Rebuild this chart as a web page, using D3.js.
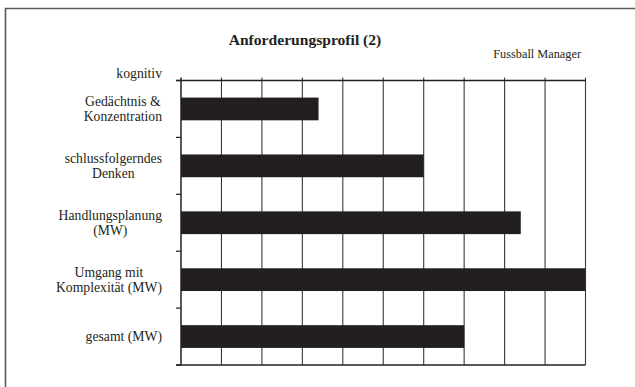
<!DOCTYPE html>
<html>
<head>
<meta charset="utf-8">
<script src="https://cdn.jsdelivr.net/npm/d3@7"></script>
<style>
  body { margin: 0; background: #fff; }
</style>
</head>
<body>
<div id="chart"></div>
<script>
// categories (each entry = label lines), values on a 0..10 scale
var categories = [
  ["Gedächtnis &", "Konzentration"],
  ["schlussfolgerndes", "Denken"],
  ["Handlungsplanung", "(MW)"],
  ["Umgang mit", "Komplexität (MW)"],
  ["gesamt (MW)"]
];
var values = [3.4, 6.0, 8.4, 10, 7.0];
var xTicks = [0, 1, 2, 3, 4, 5, 6, 7, 8, 9, 10];
var title = "Anforderungsprofil (2)";
var subtitle = "Fussball Manager";
var groupLabel = "kognitiv";

var width = 635, height = 387;
var margin = {top: 80.5, left: 181, right: 49.5, bottom: 22};
var serif = "'Liberation Serif', 'Times New Roman', Tinos, 'DejaVu Serif', serif";

var svg = d3.select("#chart").append("svg")
  .attr("width", width)
  .attr("height", height)
  .attr("font-family", serif);

// outer frame (runs off the right and bottom)
svg.append("path")
  .attr("d", "M5.5,400V8.5H640")
  .attr("fill", "none")
  .attr("stroke", "#5a5a5a")
  .attr("stroke-width", 1.6);

var x = d3.scaleLinear()
  .domain([0, 10])
  .range([margin.left, width - margin.right]);

var keys = categories.map(function(d, i) { return i; });
var y = d3.scaleBand()
  .domain(keys)
  .range([margin.top, height - margin.bottom])
  .paddingInner(0.6)
  .paddingOuter(0.3);

var step = y.step();
var y0 = margin.top, y1 = height - margin.bottom;

// vertical grid lines
svg.append("g").selectAll("line")
  .data(xTicks.slice(1))
  .enter().append("line")
  .attr("x1", function(d) { return x(d); })
  .attr("x2", function(d) { return x(d); })
  .attr("y1", y0 - 3)
  .attr("y2", y1)
  .attr("stroke", "#3a3a3a")
  .attr("stroke-width", 1.1);

// bars
svg.append("g").selectAll("rect")
  .data(values)
  .enter().append("rect")
  .attr("x", x(0))
  .attr("y", function(d, i) { return y(i); })
  .attr("width", function(d) { return x(d) - x(0); })
  .attr("height", y.bandwidth())
  .attr("fill", "#231f20");

// top and bottom lines
[y0, y1].forEach(function(yy) {
  svg.append("line")
    .attr("x1", x(0) - 5).attr("x2", x(10))
    .attr("y1", yy).attr("y2", yy)
    .attr("stroke", "#231f20")
    .attr("stroke-width", 1.5);
});

// left axis with ticks at the category boundaries
svg.append("line")
  .attr("x1", x(0)).attr("x2", x(0))
  .attr("y1", y0 - 3).attr("y2", y1)
  .attr("stroke", "#231f20")
  .attr("stroke-width", 1.5);

var bounds = d3.range(categories.length + 1).map(function(i) { return y0 + i * step; });
svg.append("g").selectAll("line")
  .data(bounds)
  .enter().append("line")
  .attr("x1", x(0) - 5).attr("x2", x(0))
  .attr("y1", function(d) { return d; })
  .attr("y2", function(d) { return d; })
  .attr("stroke", "#231f20")
  .attr("stroke-width", 1.2);

// category labels: block right-aligned, lines centred in the block
var labelRight = 162, lineH = 15.5;
var labels = svg.append("g").selectAll("text")
  .data(categories)
  .enter().append("text")
  .attr("font-size", 13.7)
  .attr("fill", "#231f20")
  .attr("text-anchor", "middle");

labels.each(function(lines, i) {
  var t = d3.select(this);
  var cy = y(i) + y.bandwidth() / 2;
  var top = cy - (lines.length - 1) * lineH / 2;
  lines.forEach(function(l, j) {
    t.append("tspan")
      .attr("y", top + j * lineH)
      .attr("dy", "0.35em")
      .text(l);
  });
  var w = 0;
  t.selectAll("tspan").each(function() { w = Math.max(w, this.getComputedTextLength()); });
  t.selectAll("tspan").attr("x", labelRight - w / 2);
});

svg.append("text")
  .attr("x", 162).attr("y", 73)
  .attr("dy", "0.35em")
  .attr("text-anchor", "end")
  .attr("font-size", 13.7)
  .attr("fill", "#231f20")
  .text(groupLabel);

svg.append("text")
  .attr("x", 305).attr("y", 40)
  .attr("dy", "0.35em")
  .attr("text-anchor", "middle")
  .attr("font-size", 15.6)
  .attr("font-weight", "bold")
  .attr("fill", "#231f20")
  .text(title);

svg.append("text")
  .attr("x", 581).attr("y", 54)
  .attr("dy", "0.35em")
  .attr("text-anchor", "end")
  .attr("font-size", 12.3)
  .attr("fill", "#231f20")
  .text(subtitle);
</script>
</body>
</html>
